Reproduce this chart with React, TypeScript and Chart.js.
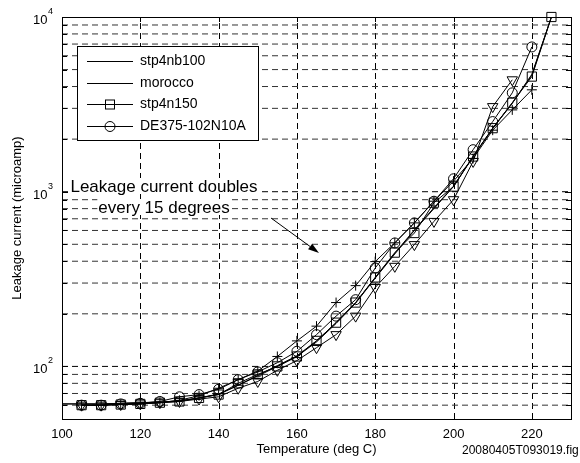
import React, { useEffect, useRef } from 'react';
import { Chart, registerables } from 'chart.js';

Chart.register(...registerables);

// ---- data ----
const lineTemps = [100, 105, 110, 115, 120, 125, 130, 135, 140, 145, 150, 155, 160, 165, 170, 175, 180, 185, 190, 195, 200, 205, 210, 215, 220, 225];
const stp4nb100 = [61, 61, 61, 61.5, 62, 62.5, 63.5, 66, 69, 78, 88, 100, 114, 138, 176, 230, 320, 440, 600, 800, 1070, 1590, 2300, 3200, 4700, 10000];
const morocco = [61, 61, 61, 61.5, 62, 62.5, 63.5, 66, 69.5, 78, 89, 101, 115, 140, 178, 232, 322, 445, 605, 810, 1075, 1595, 2310, 3220, 4650, 10000];

const squareTemps = [105, 110, 115, 120, 125, 130, 135, 140, 145, 150, 155, 160, 165, 170, 175, 180, 185, 190, 195, 200, 205, 210, 215, 220, 225];
const stp4n150 = [60, 60, 60.5, 61, 62, 63, 66, 69, 80, 90, 100, 114, 140, 178, 232, 323, 448, 580, 865, 1070, 1590, 2310, 3230, 4560, 10000];

const circleTemps = [105, 110, 115, 120, 125, 130, 135, 140, 145, 150, 155, 160, 165, 170, 175, 180, 185, 190, 195, 200, 205, 210, 215, 220];
const de375 = [60, 60, 61, 61.5, 63, 67, 69, 74, 84, 93, 105, 122, 152, 194, 241, 366, 509, 663, 882, 1186, 1740, 2520, 3680, 6740];

const plusTemps = [105, 110, 115, 120, 125, 130, 135, 140, 145, 150, 155, 160, 165, 170, 175, 180, 185, 190, 195, 200, 205, 210, 215, 220];
const plusValues = [60, 60, 60.5, 61, 62, 64, 68, 75, 84, 94, 114, 140, 170, 232, 290, 398, 510, 663, 882, 1150, 1550, 2250, 2940, 3830];

const triTemps = [105, 110, 115, 120, 125, 130, 135, 140, 145, 150, 155, 160, 165, 170, 175, 180, 185, 190, 195, 200, 205, 210, 215];
const triValues = [60, 60, 60.5, 61, 62, 63, 65, 67, 75, 82, 95, 108, 128, 152, 194, 283, 374, 498, 676, 900, 1490, 3070, 4370];

const xTickValues = [120, 140, 160, 180, 200, 220];
const yDecades = [2, 3, 4];
const legendLabels = ['stp4nb100', 'morocco', 'stp4n150', 'DE375-102N10A'];
const annotationLines = ['Leakage current doubles', 'every 15 degrees'];
const xTitle = 'Temperature (deg C)';
const yTitle = 'Leakage current (microamp)';
const fileLabel = '20080405T093019.fig';

const FONT = 'Arial, "Liberation Sans", Helvetica, sans-serif';

const zip = (xs: number[], ys: number[]) => xs.map((x, i) => ({ x, y: ys[i] }));

const matlabPlugin = {
  id: 'matlabLook',
  beforeDatasetsDraw(chart: any) {
    const { ctx, chartArea: a, scales } = chart;
    const xs = scales.x, ys = scales.y;
    ctx.save();
    ctx.lineWidth = 1;
    ctx.setLineDash([6, 4]);
    ctx.strokeStyle = '#000';
    for (const t of xTickValues) {
      const px = Math.round(xs.getPixelForValue(t)) + 0.5;
      ctx.beginPath();
      ctx.moveTo(px, a.bottom);
      ctx.lineTo(px, a.top);
      ctx.stroke();
    }
    for (const d of [1, 2, 3]) {
      for (let m = 1; m <= 9; m++) {
        const v = m * Math.pow(10, d);
        if (v <= ys.min || v >= ys.max) continue;
        const py = ys.getPixelForValue(v);
        ctx.strokeStyle = m === 1 ? '#000' : '#333';
        ctx.beginPath();
        ctx.moveTo(a.left, py);
        ctx.lineTo(a.right, py);
        ctx.stroke();
      }
    }
    ctx.restore();
  },
  afterDatasetsDraw(chart: any) {
    const { ctx, chartArea: a, scales } = chart;
    const xs = scales.x, ys = scales.y;
    ctx.save();
    ctx.setLineDash([]);
    ctx.strokeStyle = '#000';
    ctx.lineWidth = 1;
    ctx.strokeRect(Math.round(a.left) + 0.5, Math.round(a.top) + 0.5, Math.round(a.right - a.left), Math.round(a.bottom - a.top));
    for (const t of xTickValues) {
      const px = Math.round(xs.getPixelForValue(t)) + 0.5;
      ctx.beginPath();
      ctx.moveTo(px, a.bottom); ctx.lineTo(px, a.bottom - 5);
      ctx.moveTo(px, a.top); ctx.lineTo(px, a.top + 5);
      ctx.stroke();
    }
    for (const d of [1, 2, 3]) {
      for (let m = 1; m <= 9; m++) {
        const v = m * Math.pow(10, d);
        if (v < ys.min || v > ys.max) continue;
        const py = Math.round(ys.getPixelForValue(v)) + 0.5;
        const len = m === 1 ? 6 : 5;
        ctx.beginPath();
        ctx.moveTo(a.left, py); ctx.lineTo(a.left + len, py);
        ctx.moveTo(a.right, py); ctx.lineTo(a.right - len, py);
        ctx.stroke();
      }
    }
    ctx.fillStyle = '#000';
    for (const p of yDecades) {
      const py = ys.getPixelForValue(Math.pow(10, p));
      ctx.font = `9px ${FONT}`;
      const ew = ctx.measureText(String(p)).width;
      const ex = a.left - 9 - ew;
      ctx.textAlign = 'left';
      ctx.textBaseline = 'alphabetic';
      ctx.fillText(String(p), ex, py - 3);
      ctx.font = `13px ${FONT}`;
      ctx.textAlign = 'right';
      ctx.fillText('10', ex - 0.5, py + 7);
    }
    ctx.font = `13px ${FONT}`;
    ctx.textAlign = 'center';
    ctx.textBaseline = 'middle';
    ctx.fillText(xTitle, (a.left + a.right) / 2, 449);
    ctx.save();
    ctx.translate(17, (a.top + a.bottom) / 2);
    ctx.rotate(-Math.PI / 2);
    ctx.fillText(yTitle, 0, 0);
    ctx.restore();
    ctx.font = `12px ${FONT}`;
    ctx.textAlign = 'left';
    ctx.fillText(fileLabel, 462, 451);

    // legend
    const lx = 77.5, ly = 46.5, lw = 181, lh = 94;
    ctx.fillStyle = '#fff';
    ctx.fillRect(lx, ly, lw, lh);
    ctx.strokeRect(lx, ly, lw, lh);
    const rows = [61, 82.5, 104, 125.5];
    ctx.font = `14px ${FONT}`;
    ctx.textAlign = 'left';
    ctx.textBaseline = 'middle';
    legendLabels.forEach((lab, i) => {
      const ry = Math.round(rows[i]) + 0.5;
      ctx.strokeStyle = '#000';
      ctx.beginPath();
      ctx.moveTo(87, ry); ctx.lineTo(133, ry);
      ctx.stroke();
      if (i === 2) {
        ctx.strokeRect(105.5, ry - 4.5, 9, 9);
      } else if (i === 3) {
        ctx.beginPath();
        ctx.arc(110, ry, 5, 0, Math.PI * 2);
        ctx.stroke();
      }
      ctx.fillStyle = '#000';
      ctx.fillText(lab, 140, rows[i] + 0.5);
    });

    // annotation
    ctx.font = `17px ${FONT}`;
    ctx.textAlign = 'center';
    ctx.textBaseline = 'middle';
    const cx = 164;
    const lineYs = [186, 207];
    annotationLines.forEach((s, i) => {
      const w = ctx.measureText(s).width;
      ctx.fillStyle = '#fff';
      ctx.fillRect(cx - w / 2 - 1, lineYs[i] - 8, w + 2, 16);
      ctx.fillStyle = '#000';
      ctx.fillText(s, cx, lineYs[i] + 1);
    });
    const x1 = 271, y1 = 218, x2 = 319, y2 = 253;
    const ang = Math.atan2(y2 - y1, x2 - x1);
    const hl = 11, hw = 3.5;
    const bx = x2 - hl * Math.cos(ang), by = y2 - hl * Math.sin(ang);
    ctx.beginPath();
    ctx.moveTo(x1, y1); ctx.lineTo(bx, by);
    ctx.stroke();
    ctx.beginPath();
    ctx.moveTo(x2, y2);
    ctx.lineTo(bx + hw * Math.sin(ang), by - hw * Math.cos(ang));
    ctx.lineTo(bx - hw * Math.sin(ang), by + hw * Math.cos(ang));
    ctx.closePath();
    ctx.fillStyle = '#000';
    ctx.fill();
    ctx.restore();
  },
};

export default function App() {
  const ref = useRef<HTMLCanvasElement | null>(null);
  useEffect(() => {
    if (!ref.current) return;
    const common = {
      borderColor: '#000',
      pointBorderColor: '#000',
      pointBackgroundColor: 'rgba(0,0,0,0)',
      borderWidth: 1,
      pointBorderWidth: 1,
      tension: 0,
      clip: false as const,
    };
    const chart = new Chart(ref.current, {
      type: 'line',
      data: {
        datasets: [
          { ...common, label: legendLabels[0], data: zip(lineTemps, stp4nb100), pointRadius: 0 },
          { ...common, label: legendLabels[1], data: zip(lineTemps, morocco), pointRadius: 0 },
          { ...common, label: legendLabels[2], data: zip(squareTemps, stp4n150), pointStyle: 'rect', pointRadius: 6.5 },
          { ...common, label: legendLabels[3], data: zip(circleTemps, de375), pointStyle: 'circle', pointRadius: 5 },
          { ...common, label: 'plus', data: zip(plusTemps, plusValues), pointStyle: 'cross', pointRadius: 5 },
          { ...common, label: 'tri', data: zip(triTemps, triValues), pointStyle: 'triangle', pointRotation: 180, pointRadius: 6 },
        ] as any,
      },
      options: {
        animation: false,
        responsive: false,
        maintainAspectRatio: false,
        devicePixelRatio: 1,
        events: [],
        layout: { padding: { top: 17, right: 9, left: 0, bottom: 0 } },
        plugins: { legend: { display: false }, tooltip: { enabled: false } },
        scales: {
          x: {
            type: 'linear',
            min: 100,
            max: 230,
            afterFit: (s: any) => { s.height = 44; },
            grid: { display: false },
            border: { display: false },
            ticks: {
              stepSize: 20,
              includeBounds: false,
              autoSkip: false,
              maxRotation: 0,
              color: '#000',
              padding: 0,
              font: { family: FONT, size: 13 },
            },
          },
          y: {
            type: 'logarithmic',
            min: 50,
            max: 10000,
            afterFit: (s: any) => { s.width = 62; },
            grid: { display: false },
            border: { display: false },
            ticks: { display: false },
          },
        },
      } as any,
      plugins: [matlabPlugin],
    });
    return () => chart.destroy();
  }, []);
  return (
    <div style={{ position: 'fixed', left: 0, top: 0, width: 580, height: 463, background: '#fff' }}>
      <canvas ref={ref} width={580} height={463} style={{ width: 580, height: 463, display: 'block' }} />
    </div>
  );
}
